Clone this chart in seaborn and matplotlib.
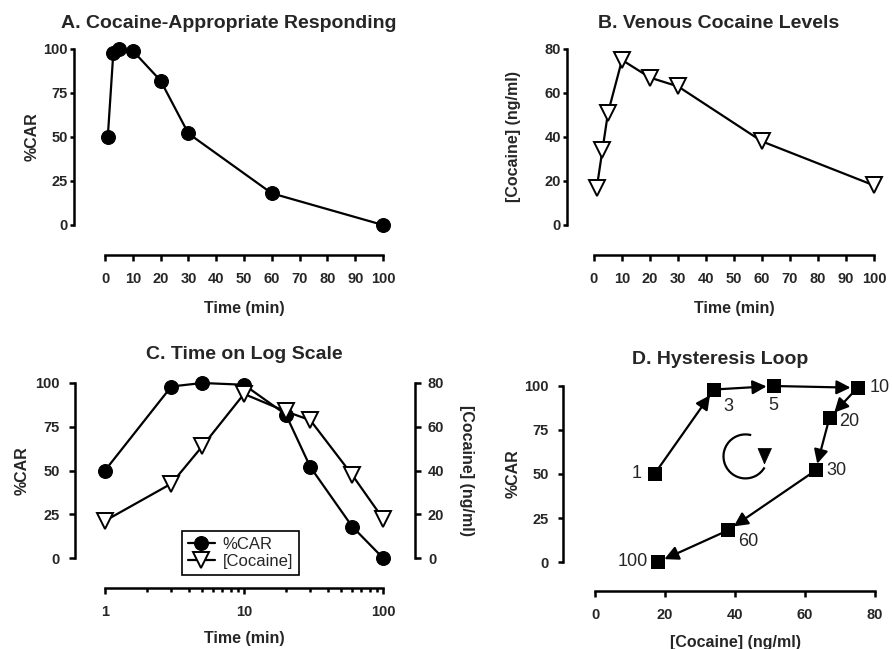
import matplotlib
matplotlib.use("Agg")
import matplotlib.pyplot as plt
import matplotlib.ticker as mticker
from matplotlib.patches import Arc, Polygon
from matplotlib.transforms import ScaledTranslation
import seaborn as sns
import pandas as pd

# Time course after cocaine administration
time_min = [1, 3, 5, 10, 20, 30, 60, 100]
pct_car = [50, 98, 100, 99, 82, 52, 18, 0]          # %cocaine-appropriate responding
cocaine_ngml = [17, 34, 51, 75, 67, 63, 38, 18]     # venous cocaine (ng/ml)
time_labels = ["1", "3", "5", "10", "20", "30", "60", "100"]

df = pd.DataFrame({"time": time_min, "car": pct_car, "coc": cocaine_ngml})

sns.set_theme(style="ticks")
plt.rcParams["font.family"] = ["Liberation Sans", "DejaVu Sans"]
plt.rcParams["font.weight"] = "bold"
plt.rcParams["axes.labelweight"] = "bold"
plt.rcParams["axes.titleweight"] = "bold"

W, H = 892, 649
PT = 0.72  # points per pixel at 100 dpi
fig = plt.figure(figsize=(W / 100, H / 100), dpi=100)
fig.patch.set_facecolor("white")

SPINE_W = 1.8
LINE_W = 1.6
TICK_FS = 10.5
LABEL_FS = 11.5
TITLE_FS = 14


def px_axes(left, right, top, bottom):
    return fig.add_axes([left / W, 1 - bottom / H, (right - left) / W, (bottom - top) / H])


def prism_style(ax, left_out, bottom_out, ylen, ypad, xlen=4.5, xpad=5):
    for s in ("top", "right"):
        ax.spines[s].set_visible(False)
    ax.spines["left"].set_position(("outward", left_out * PT))
    ax.spines["bottom"].set_position(("outward", bottom_out * PT))
    for s in ("left", "bottom"):
        ax.spines[s].set_linewidth(SPINE_W)
        ax.spines[s].set_color("black")
    ax.tick_params(axis="y", which="major", direction="out", length=ylen * PT,
                   width=SPINE_W, color="black", labelsize=TICK_FS, pad=ypad * PT)
    ax.tick_params(axis="x", which="major", direction="out", length=xlen * PT,
                   width=SPINE_W, color="black", labelsize=TICK_FS, pad=xpad * PT)
    ax.set_facecolor("white")
    ax.grid(False)


# ---------- A. Cocaine-Appropriate Responding ----------
axA = px_axes(105, 383, 49, 225)
sns.lineplot(data=df, x="time", y="car", ax=axA, color="black", linewidth=LINE_W,
             marker="o", markersize=10, markeredgecolor="black", clip_on=False)
axA.set_xlim(0, 100)
axA.set_ylim(0, 100)
axA.set_xticks(range(0, 101, 10))
axA.set_yticks([0, 25, 50, 75, 100])
prism_style(axA, 31, 30, ylen=4, ypad=2, xlen=6, xpad=11)
axA.set_xlabel("Time (min)", fontsize=LABEL_FS, labelpad=11)
axA.set_ylabel("%CAR", fontsize=LABEL_FS)
axA.yaxis.set_label_coords((40 - 105) / 278, 0.5)
axA.set_title("A. Cocaine-Appropriate Responding", fontsize=TITLE_FS, pad=15, x=0.446)

# ---------- B. Venous Cocaine Levels ----------
axB = px_axes(594, 874, 49, 225)
sns.lineplot(data=df, x="time", y="coc", ax=axB, color="black", linewidth=LINE_W,
             marker="v", markersize=11.5, markerfacecolor="white",
             markeredgecolor="black", markeredgewidth=1.4, clip_on=False)
axB.set_xlim(0, 100)
axB.set_ylim(0, 80)
axB.set_xticks(range(0, 101, 10))
axB.set_yticks([0, 20, 40, 60, 80])
prism_style(axB, 27, 30, ylen=4, ypad=2, xlen=6, xpad=11)
axB.set_xlabel("Time (min)", fontsize=LABEL_FS, labelpad=11)
axB.set_ylabel("[Cocaine] (ng/ml)", fontsize=LABEL_FS)
axB.yaxis.set_label_coords((521 - 594) / 280, 0.5)
axB.set_title("B. Venous Cocaine Levels", fontsize=TITLE_FS, pad=15, x=0.446)

# ---------- C. Time on Log Scale ----------
axC = px_axes(105, 383, 383, 558)
sns.lineplot(data=df, x="time", y="car", ax=axC, color="black", linewidth=LINE_W,
             marker="o", markersize=10, markeredgecolor="black", clip_on=False,
             legend=False)
axC.set_xscale("log")
axC.set_xlim(1, 100)
axC.set_ylim(0, 100)
axC.set_yticks([0, 25, 50, 75, 100])
axC.xaxis.set_major_locator(mticker.FixedLocator([1, 10, 100]))
axC.xaxis.set_major_formatter(mticker.FuncFormatter(lambda v, p: f"{v:g}"))
axC.xaxis.set_minor_locator(mticker.LogLocator(base=10, subs=range(2, 10)))
axC.xaxis.set_minor_formatter(mticker.NullFormatter())
prism_style(axC, 30, 30, ylen=6, ypad=9, xlen=6, xpad=11)
axC.tick_params(axis="x", which="minor", direction="out", length=4 * PT,
                width=SPINE_W, color="black")
axC.set_xlabel("Time (min)", fontsize=LABEL_FS, labelpad=9)
axC.set_ylabel("%CAR", fontsize=LABEL_FS)
axC.yaxis.set_label_coords((30 - 105) / 278, 0.5)
axC.set_title("C. Time on Log Scale", fontsize=TITLE_FS, pad=17)

axC2 = axC.twinx()
sns.lineplot(data=df, x="time", y="coc", ax=axC2, color="black", linewidth=LINE_W,
             marker="v", markersize=11.5, markerfacecolor="white",
             markeredgecolor="black", markeredgewidth=1.4, clip_on=False,
             legend=False)
axC2.set_ylim(0, 80)
axC2.set_yticks([0, 20, 40, 60, 80])
for s in ("top", "left", "bottom"):
    axC2.spines[s].set_visible(False)
axC2.spines["right"].set_position(("outward", 32 * PT))
axC2.spines["right"].set_linewidth(SPINE_W)
axC2.spines["right"].set_color("black")
axC2.tick_params(axis="y", direction="out", length=6 * PT, width=SPINE_W, color="black",
                 labelsize=TICK_FS, pad=7 * PT)
axC2.set_ylabel("[Cocaine] (ng/ml)", fontsize=LABEL_FS, rotation=270, labelpad=21)
axC2.grid(False)
axC2.set_xlim(1, 100)

handles = axC.get_lines()[:1] + axC2.get_lines()[:1]
leg = axC2.legend(handles, ["%CAR", "[Cocaine]"], loc="lower left",
                  bbox_to_anchor=((182 - 105) / 278, (558 - 575) / 175),
                  prop={"family": "Liberation Sans", "weight": "normal", "size": 12},
                  frameon=True, fancybox=False, edgecolor="black", framealpha=1,
                  handlelength=1.6, handletextpad=0.5, borderpad=0.35, labelspacing=0.15,
                  borderaxespad=0)
leg.get_frame().set_linewidth(1.2)

# ---------- D. Hysteresis Loop ----------
axD = px_axes(595, 875, 386, 562)
axD.set_xlim(0, 80)
axD.set_ylim(0, 100)
for i in range(len(time_min) - 1):
    axD.annotate("", xy=(cocaine_ngml[i + 1], pct_car[i + 1]),
                 xytext=(cocaine_ngml[i], pct_car[i]),
                 arrowprops=dict(arrowstyle="-|>", color="black", lw=LINE_W,
                                 shrinkA=0, shrinkB=5, mutation_scale=21),
                 annotation_clip=False)
sns.scatterplot(data=df, x="coc", y="car", ax=axD, marker="s", s=95, color="black",
                edgecolor="black", linewidth=0, clip_on=False, zorder=4)

# point labels: (dx, dy) offsets in points, horizontal alignment
label_pos = {
    "1": (-9, 0, "right"),
    "3": (7, -12, "left"),
    "5": (0, -14, "center"),
    "10": (9, 0, "left"),
    "20": (7, -3, "left"),
    "30": (8, 0, "left"),
    "60": (7, -8, "left"),
    "100": (-7, 0, "right"),
}
for t, xc, yc in zip(time_labels, cocaine_ngml, pct_car):
    dx, dy, ha = label_pos[t]
    axD.annotate(t, (xc, yc), xytext=(dx, dy), textcoords="offset points",
                 ha=ha, va="center", fontsize=13, fontweight="normal",
                 annotation_clip=False)

# clockwise rotation symbol
loop_tr = fig.dpi_scale_trans + ScaledTranslation(43, 60, axD.transData)
axD.add_patch(Arc((0, 0), 0.44, 0.44, theta1=75, theta2=330, transform=loop_tr,
                  color="black", lw=1.6))
axD.add_patch(Polygon([(0.125, 0.08), (0.26, 0.08), (0.19, -0.075)], closed=True,
                      transform=loop_tr, facecolor="black", edgecolor="black", lw=0.5))

axD.set_xticks([0, 20, 40, 60, 80])
axD.set_yticks([0, 25, 50, 75, 100])
prism_style(axD, 32, 29, ylen=5, ypad=9, xlen=6, xpad=11)
axD.set_xlabel("[Cocaine] (ng/ml)", fontsize=LABEL_FS, labelpad=9)
axD.set_ylabel("%CAR", fontsize=LABEL_FS)
axD.yaxis.set_label_coords((521 - 595) / 280, 0.5)
axD.set_title("D. Hysteresis Loop", fontsize=TITLE_FS, pad=16, x=0.446)

fig.savefig("out.png", dpi=100, facecolor="white")
